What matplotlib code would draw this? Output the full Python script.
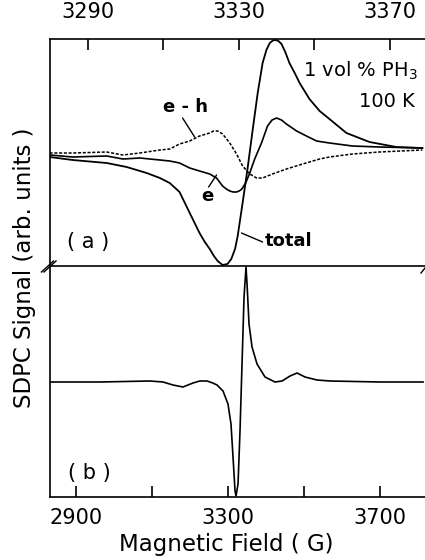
import matplotlib
matplotlib.use("Agg")
from matplotlib import pyplot as plt

# (a) zoomed spectrum, field in G, signal in arb. units
field_total = [3279.9, 3286.0, 3295.0, 3300.3, 3305.6, 3309.1, 3311.7, 3314.3, 3317.0,
               3319.6, 3321.0, 3322.3, 3323.4, 3324.4, 3325.7, 3327.0, 3328.0, 3329.0,
               3329.7, 3331.0, 3332.3, 3333.7, 3335.0, 3336.3, 3337.3, 3338.2, 3339.0,
               3339.7, 3340.5, 3341.3, 3342.3, 3343.4, 3344.8, 3346.1, 3348.7, 3351.4,
               3354.0, 3358.5, 3364.6, 3371.7, 3378.6]
sig_total = [0.0, -0.3, -0.6, -1.0, -1.6, -2.1, -2.6, -3.5, -5.6,
             -7.6, -8.5, -9.2, -9.9, -10.4, -10.8, -10.7, -10.2, -9.2,
             -7.9, -4.6, -1.2, 2.8, 6.4, 9.4, 10.7, 11.4, 11.65,
             11.7, 11.6, 11.3, 10.5, 9.4, 8.4, 7.4, 5.8, 4.6,
             3.8, 2.4, 1.5, 1.0, 0.9]

field_e = [3279.9, 3286.0, 3295.0, 3299.3, 3303.8, 3309.1, 3311.7, 3314.3, 3317.0,
           3319.6, 3322.3, 3324.1, 3325.7, 3326.7, 3327.6, 3328.5, 3329.4, 3330.1,
           3330.8, 3331.8, 3332.9, 3334.2, 3336.0, 3337.6, 3338.8, 3340.0, 3341.3,
           3342.6, 3345.3, 3347.9, 3350.6, 3354.0, 3360.1, 3367.2, 3378.6]
sig_e = [0.2, 0.0, 0.1, -0.2, -0.1, -0.3, -0.4, -0.6, -1.1,
         -1.4, -1.7, -2.1, -2.9, -3.2, -3.4, -3.5, -3.5, -3.4,
         -3.2, -2.6, -1.6, -0.2, 1.4, 3.1, 3.7, 3.9, 3.7,
         3.3, 2.6, 2.1, 1.6, 1.4, 1.1, 1.0, 0.9]

field_eh = [3279.9, 3286.0, 3295.0, 3299.3, 3303.8, 3309.1, 3311.7, 3314.3, 3317.0,
            3319.6, 3322.3, 3323.3, 3324.4, 3325.7, 3327.6, 3329.4, 3331.0, 3332.9,
            3334.7, 3336.3, 3338.9, 3342.6, 3346.9, 3351.4, 3354.0, 3360.1, 3367.2,
            3378.6]
sig_eh = [0.4, 0.4, 0.5, 0.2, 0.4, 0.7, 0.8, 1.3, 1.6,
          2.1, 2.4, 2.6, 2.6, 2.3, 1.4, 0.3, -0.9, -1.7,
          -2.1, -2.1, -1.7, -1.2, -0.7, -0.2, 0.0, 0.3, 0.5,
          0.7]

# (b) wide scan
field_b = [2831.6, 2963.0, 3094.7, 3129.0, 3155.3, 3181.6, 3207.9, 3226.0, 3244.8,
           3260.0, 3271.1, 3286.9, 3300.0, 3307.9, 3313.2, 3318.5, 3321.1, 3326.4,
           3331.6, 3336.9, 3342.2, 3347.4, 3350.1, 3355.3, 3363.2, 3376.4, 3397.4,
           3423.7, 3442.2, 3463.2, 3481.7, 3502.7, 3534.3, 3568.5, 3700.0, 3813.3]
sig_b = [0.0, 0.0, 0.1, 0.0, -0.3, -0.5, -0.1, 0.1, 0.1,
         -0.1, -0.3, -0.9, -2.2, -4.2, -7.5, -10.9, -11.4, -10.2,
         -4.9, 1.8, 8.5, 11.5, 9.8, 5.8, 3.5, 1.8, 0.5,
         0.0, 0.1, 0.6, 0.9, 0.5, 0.2, 0.1, 0.0, 0.0]

top_ticks = [3290, 3310, 3330, 3350, 3370]
top_labels = ["3290", "", "3330", "", "3370"]
bot_ticks = [2900, 3100, 3300, 3500, 3700]
bot_labels = ["2900", "", "3300", "", "3700"]

fig = plt.figure(figsize=(4.25, 5.6), dpi=100)
ax1 = fig.add_axes([50 / 425, 1 - 266 / 560, 1 - 50 / 425, 227 / 560])
ax2 = fig.add_axes([50 / 425, 1 - 497 / 560, 1 - 50 / 425, 231 / 560])

ax1.plot(field_total, sig_total, color="k", lw=1.3, solid_joinstyle="round")
ax1.plot(field_e, sig_e, color="k", lw=1.2, solid_joinstyle="round")
ax1.plot(field_eh, sig_eh, color="k", lw=1.1, linestyle=(0, (2.0, 1.1)))
ax1.set_xlim(3280, 3379.3)
ax1.set_ylim(-10.9, 11.8)

ax2.plot(field_b, sig_b, color="k", lw=1.2, solid_joinstyle="round")
ax2.set_xlim(2831.6, 3818.4)
ax2.set_ylim(-11.5, 11.6)

for ax in (ax1, ax2):
    ax.spines["right"].set_visible(False)
    for s in ax.spines.values():
        s.set_linewidth(1.2)
    ax.set_yticks([])
ax1.spines["bottom"].set_visible(False)

ax1.xaxis.tick_top()
ax1.set_xticks(top_ticks)
ax1.set_xticklabels(top_labels)
ax1.tick_params(axis="x", direction="in", length=8, width=1.2, pad=12, labelsize=15)

ax2.set_xticks(bot_ticks)
ax2.set_xticklabels(bot_labels)
ax2.tick_params(axis="x", direction="in", length=8, width=1.2, pad=8, labelsize=15)

# labels on the curves, with leader lines
lbl = dict(ha="center", va="center", fontsize=13, fontweight="bold")
ax1.text(3315.9, 5.0, "e - h", **lbl)
ax1.text(3321.7, -3.9, "e", **lbl)
ax1.text(3343.2, -8.4, "total", **lbl)
lead = dict(arrowstyle="-", lw=1.0, shrinkA=0, shrinkB=0)
ax1.annotate("", xy=(3318.3, 2.0), xytext=(3315.1, 3.9), arrowprops=lead)
ax1.annotate("", xy=(3324.1, -1.8), xytext=(3322.0, -3.0), arrowprops=lead)
ax1.annotate("", xy=(3330.7, -7.6), xytext=(3336.3, -8.5), arrowprops=lead)

ax1.text(3377.3, 8.0, "1 vol % PH$_3$", ha="right", va="baseline", fontsize=14)
ax1.text(3376.5, 5.0, "100 K", ha="right", va="baseline", fontsize=14)
ax1.text(3290, -8.5, "( a )", ha="center", va="center", fontsize=15)
ax2.text(2934, -9.1, "( b )", ha="center", va="center", fontsize=15)

# axis break marks
for dx in (-2.5, 0.0):
    fig.lines.append(plt.Line2D([(44 + dx) / 425, (56 + dx) / 425],
                                [1 - 272 / 560, 1 - 261 / 560],
                                color="k", lw=1.0, transform=fig.transFigure))
fig.lines.append(plt.Line2D([421 / 425, 425 / 425], [1 - 273 / 560, 1 - 268 / 560],
                            color="k", lw=1.0, transform=fig.transFigure))

fig.text(25 / 425, 1 - 268 / 560, "SDPC Signal (arb. units )", rotation=90,
         ha="center", va="center", fontsize=16.5)
fig.text(226 / 425, 1 - 545 / 560, "Magnetic Field ( G)", ha="center", va="center",
         fontsize=16.5)

fig.savefig("out.png", dpi=100)
